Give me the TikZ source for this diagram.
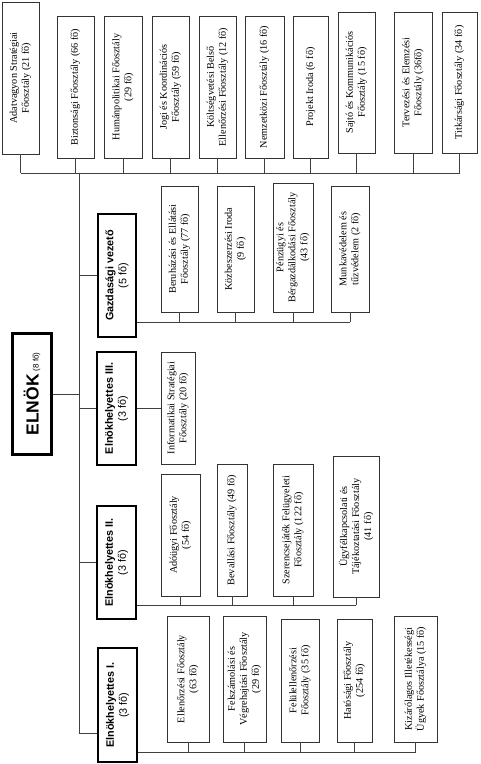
\documentclass[tikz,border=0pt]{standalone}
\usepackage{fontspec}
\setmainfont{Liberation Serif}
\setsansfont{Liberation Sans}
\usetikzlibrary{calc}

\begin{document}
\begin{tikzpicture}[
  x=1pt, y=-1pt,
  dept/.style={draw=black!80, line width=0.6pt, rotate=90, align=center, inner sep=1pt, font=\fontsize{10.2}{12}\selectfont},
  head/.style={draw, line width=1.5pt, rotate=90, align=center, inner sep=1pt, font=\sffamily\bfseries\fontsize{10.8}{13}\selectfont},
  link/.style={draw=black!75, line width=0.7pt}
]
\useasboundingbox (0,0) rectangle (480,764);

\node[dept, minimum width=152pt, minimum height=37pt] (adat) at (20.5,78) {Adatvagyon Stratégiai\\Főosztály (21 fő)};
\node[dept, minimum width=142pt, minimum height=37pt] (bizt) at (75.5,87) {Biztonsági Főosztály (66 fő)};
\node[dept, minimum width=142pt, minimum height=38pt] (human) at (123,87) {Humánpolitikai Főosztály\\(29 fő)};
\node[dept, minimum width=142pt, minimum height=37pt] (jogi) at (170.5,87) {Jogi és Koordinációs\\Főosztály (59 fő)};
\node[dept, minimum width=142pt, minimum height=37pt] (kolts) at (217.5,87) {Költségvetési Belső\\Ellenőrzési Főosztály (12 fő)};
\node[dept, minimum width=142pt, minimum height=39pt] (nemz) at (264.5,87) {Nemzetközi Főosztály (16 fő)};
\node[dept, minimum width=142pt, minimum height=35pt] (proj) at (310.5,87) {Projekt Iroda (6 fő)};
\node[dept, minimum width=141pt, minimum height=37pt] (sajto) at (356.5,82.5) {Sajtó és Kommunikációs\\Főosztály (15 fő)};
\node[dept, minimum width=141pt, minimum height=38pt] (terv) at (413,82.5) {Tervezési és Elemzési\\Főosztály (36fő)};
\node[dept, minimum width=141pt, minimum height=35pt] (titk) at (459.5,82.5) {Titkársági Főosztály (34 fő)};

\node[draw, line width=2.4pt, rotate=90, minimum width=122pt, minimum height=40pt, inner sep=1pt] (elnok) at (32,394)
  {\sffamily\bfseries\fontsize{17.5}{19}\selectfont ELNÖK\,{\normalfont\sffamily\fontsize{8}{9}\selectfont (8 fő)}};
\draw[line width=0.6pt] ([shift={(2.6pt,-2.6pt)}]elnok.north east) rectangle ([shift={(-2.6pt,2.6pt)}]elnok.south west);

\node[head, minimum width=123pt, minimum height=38pt] (gv) at (117,275.5) {Gazdasági vezető\\{\normalfont\sffamily (5 fő)}};
\node[dept, minimum width=126pt, minimum height=37pt] (beruh) at (179.5,249) {Beruházási és Ellátási\\Főosztály (77 fő)};
\node[dept, minimum width=126pt, minimum height=37pt] (kozb) at (235.5,249) {Közbeszerzési Iroda\\(9 fő)};
\node[dept, minimum width=129pt, minimum height=40pt] (penz) at (293,247.5) {Pénzügyi és\\Bérgazdálkodási Főosztály\\(43 fő)};
\node[dept, minimum width=126pt, minimum height=38pt] (munka) at (350,249) {Munkavédelem és\\tűzvédelem (2 fő)};

\node[head, minimum width=113pt, minimum height=39pt] (eh3) at (116.5,408.5) {Elnökhelyettes III.\\{\normalfont\sffamily (3 fő)}};
\node[dept, minimum width=112pt, minimum height=34pt] (info) at (178,408) {Informatikai Stratégiai\\Főosztály (20 fő)};

\node[head, minimum width=113pt, minimum height=39pt] (eh2) at (116.5,562.5) {Elnökhelyettes II.\\{\normalfont\sffamily (3 fő)}};
\node[dept, minimum width=122pt, minimum height=39pt] (adougy) at (180.5,535) {Adóügyi Főosztály\\(54 fő)};
\node[dept, minimum width=132pt, minimum height=30pt] (bevall) at (232,530) {Bevallási Főosztály (49 fő)};
\node[dept, minimum width=132pt, minimum height=40pt] (szer) at (293,530) {Szerencsejáték Felügyeleti\\Főosztály (122 fő)};
\node[dept, minimum width=141pt, minimum height=46pt] (ugyf) at (356,526.5) {Ügyfélkapcsolati és\\Tájékoztatási Főosztály\\(41 fő)};

\node[head, minimum width=114pt, minimum height=39pt] (eh1) at (117.5,705) {Elnökhelyettes I.\\{\normalfont\sffamily (3 fő)}};
\node[dept, minimum width=126pt, minimum height=42pt] (ellen) at (188,679) {Ellenőrzési Főosztály\\(63 fő)};
\node[dept, minimum width=126pt, minimum height=43pt] (felsz) at (244.5,679) {Felszámolási és\\Végrehajtási Főosztály\\(29 fő)};
\node[dept, minimum width=123pt, minimum height=38pt] (felul) at (300,680.5) {Felülellenőrzési\\Főosztály (35 fő)};
\node[dept, minimum width=123pt, minimum height=35pt] (hat) at (354.5,680.5) {Hatósági Főosztály\\(254 fő)};
\node[dept, minimum width=126pt, minimum height=43pt] (kizar) at (415.5,679) {Kizárólagos Illetékességi\\Ügyek Főosztálya (15 fő)};

\coordinate (topbus) at (0,173);
\coordinate (trunktop) at (79,173);
\coordinate (trunkend) at (79,733);
\coordinate (gbus) at (0,322);
\coordinate (bus2) at (0,605);
\coordinate (bus1) at (0,752);

\draw[link] (adat.west |- topbus) -- (titk.west |- topbus);
\foreach \n in {adat,bizt,human,jogi,kolts,nemz,proj,sajto,terv,titk}
  \draw[link] (\n.west) -- (\n.west |- topbus);
\draw[link] (trunktop) -- (trunkend) -- (eh1.north |- trunkend);
\draw[link] (elnok.south) -- (elnok.south -| trunktop);
\foreach \n in {gv,eh3,eh2}
  \draw[link] (\n.north -| trunktop) -- (\n.north);

\draw[link] (gv.south |- gbus) -- (munka.west |- gbus);
\foreach \n in {beruh,kozb,penz,munka}
  \draw[link] (\n.west) -- (\n.west |- gbus);

\draw[link] (eh3.south) -- (eh3.south -| info.north);

\draw[link] (eh2.south |- bus2) -- (ugyf.west |- bus2);
\foreach \n in {adougy,bevall,szer,ugyf}
  \draw[link] (\n.west) -- (\n.west |- bus2);

\draw[link] (eh1.south |- bus1) -- (kizar.west |- bus1);
\foreach \n in {ellen,felsz,felul,hat,kizar}
  \draw[link] (\n.west) -- (\n.west |- bus1);
\end{tikzpicture}
\end{document}
